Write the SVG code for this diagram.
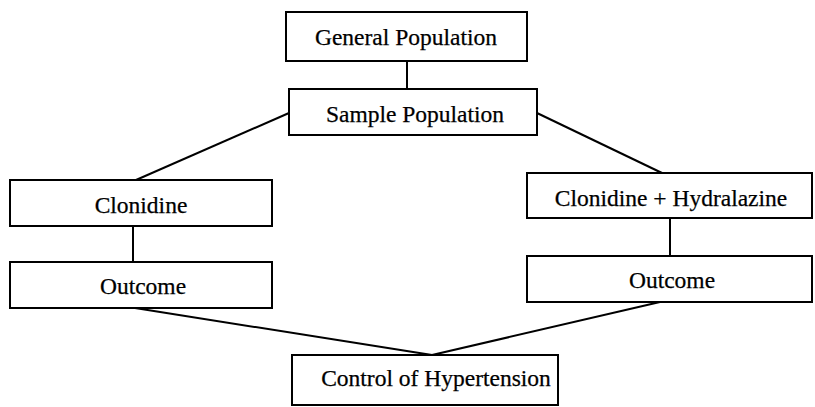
<svg xmlns="http://www.w3.org/2000/svg" width="815" height="407" viewBox="0 0 815 407">
  <style>
    .box { fill: #fff; stroke: #000; stroke-width: 2; }
    .lbl { font-family: "Liberation Serif", "Times New Roman", serif; font-size: 23.5px; fill: #000; stroke: #000; stroke-width: 0.25; text-anchor: middle; }
    .conn { stroke: #000; stroke-width: 2; fill: none; }
  </style>
  <rect width="815" height="407" fill="#fff"/>

  <g id="connectors">
    <line class="conn" x1="407" y1="61" x2="407" y2="89"/>
    <line class="conn" x1="289" y1="113" x2="136" y2="180"/>
    <line class="conn" x1="537" y1="113" x2="662" y2="173"/>
    <line class="conn" x1="133" y1="226" x2="133" y2="262"/>
    <line class="conn" x1="670" y1="218" x2="670" y2="256"/>
    <line class="conn" x1="135" y1="308" x2="432" y2="355"/>
    <line class="conn" x1="660" y1="302" x2="432" y2="355"/>
  </g>

  <g id="general-population">
    <rect class="box" x="286" y="12" width="241" height="49"/>
    <text class="lbl" x="406" y="45">General Population</text>
  </g>
  <g id="sample-population">
    <rect class="box" x="289" y="89" width="248" height="46"/>
    <text class="lbl" x="415" y="122">Sample Population</text>
  </g>
  <g id="clonidine">
    <rect class="box" x="10" y="180" width="262" height="46"/>
    <text class="lbl" x="141" y="213">Clonidine</text>
  </g>
  <g id="outcome-left">
    <rect class="box" x="10" y="262" width="262" height="46"/>
    <text class="lbl" x="143" y="294">Outcome</text>
  </g>
  <g id="clonidine-hydralazine">
    <rect class="box" x="527" y="173" width="285" height="45"/>
    <text class="lbl" x="671" y="206">Clonidine + Hydralazine</text>
  </g>
  <g id="outcome-right">
    <rect class="box" x="527" y="256" width="285" height="46"/>
    <text class="lbl" x="672" y="288">Outcome</text>
  </g>
  <g id="control-of-hypertension">
    <rect class="box" x="292" y="355" width="266" height="50"/>
    <text class="lbl" x="436" y="386">Control of Hypertension</text>
  </g>
</svg>
